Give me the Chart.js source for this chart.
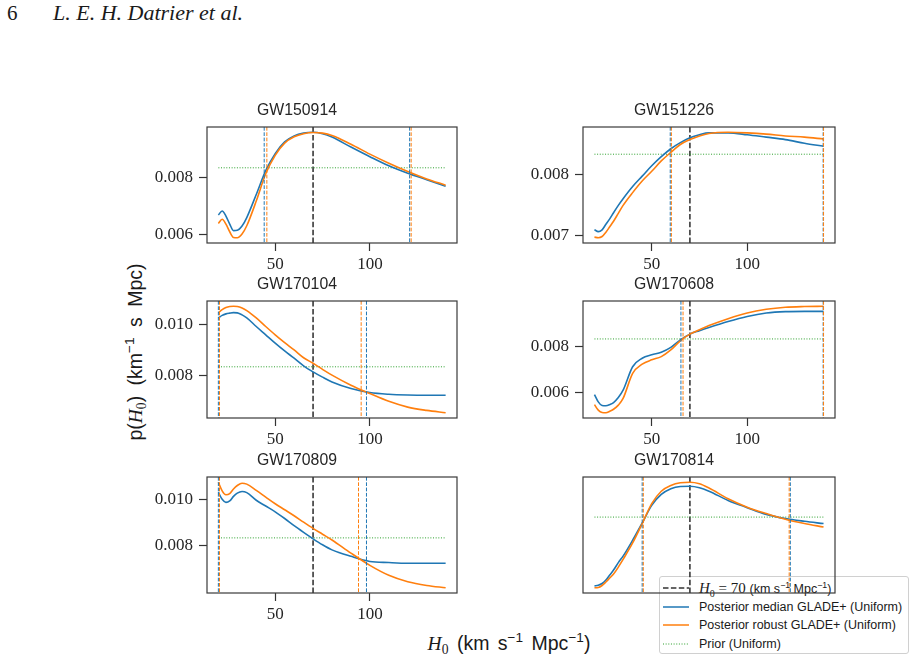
<!DOCTYPE html>
<html>
<head>
<meta charset="utf-8">
<script src="https://cdn.jsdelivr.net/npm/chart.js@4.4.1/dist/chart.umd.min.js"></script>
<style>
  html, body { margin: 0; padding: 0; background: #fff; }
  body { width: 916px; height: 661px; position: relative; overflow: hidden; font-family: "Liberation Sans", sans-serif; color: #1a1a1a; }
  canvas { position: absolute; }
  .txt { position: absolute; white-space: nowrap; }
  .m { font-family: "Liberation Serif", serif; font-style: italic; }
  .r { font-family: "Liberation Serif", serif; }
  sub, sup { font-size: 70%; line-height: 0; }
  #legend { position: absolute; left: 659px; top: 576px; width: 250px; height: 78px; border: 1px solid #d0d0d0; border-radius: 3px; background: rgba(255,255,255,0.85); font-size: 12.5px; box-sizing: border-box; padding-top: 2px; }
  #legend .row { height: 18.5px; display: flex; align-items: center; }
  #legend svg { margin-left: 3px; margin-right: 10px; }
</style>
</head>
<body>
<div class="txt r" style="left:7px;top:1px;font-size:21px;">6</div>
<div class="txt r" style="left:53px;top:0px;font-size:22px;font-style:italic;">L. E. H. Datrier et al.</div>

<div class="txt" style="left:135px;top:352px;font-size:19.5px;word-spacing:5px;transform:translate(-50%,-50%) rotate(-90deg);">p(<span class="m">H</span><sub class="r">0</sub>) (km<sup>−1</sup> s Mpc)</div>
<div class="txt" style="left:509px;top:643px;font-size:19.5px;word-spacing:3px;transform:translate(-50%,-50%);"><span class="m">H</span><sub class="r">0</sub> (km s<sup>−1</sup> Mpc<sup>−1</sup>)</div>

<div id="legend">
  <div class="row"><svg width="26" height="6"><line x1="0" y1="3" x2="26" y2="3" stroke="#333" stroke-width="1.5" stroke-dasharray="5.5 2.4"/></svg><span><span class="m" style="font-size:15px;">H</span><sub class="r" style="font-size:10px;">0</sub><span class="r" style="font-size:15px;"> = 70 </span>(km s<sup>−1</sup> Mpc<sup>−1</sup>)</span></div>
  <div class="row"><svg width="26" height="6"><line x1="0" y1="3" x2="26" y2="3" stroke="#1f77b4" stroke-width="1.5"/></svg><span>Posterior median GLADE+ (Uniform)</span></div>
  <div class="row"><svg width="26" height="6"><line x1="0" y1="3" x2="26" y2="3" stroke="#ff7f0e" stroke-width="1.5"/></svg><span>Posterior robust GLADE+ (Uniform)</span></div>
  <div class="row"><svg width="26" height="6"><line x1="0" y1="3" x2="26" y2="3" stroke="#2ca02c" stroke-width="1" stroke-dasharray="1 1.65"/></svg><span>Prior (Uniform)</span></div>
</div>

<script>
// H0 grid (km/s/Mpc) shared by every posterior curve
const H0 = [20, 22, 24, 26, 28, 30, 32.5, 35, 40, 45, 50, 55, 60, 65, 70, 75, 80, 90, 100, 110, 120, 130, 140];
const TRUE_H0 = 70;
const PRIOR = 0.00833;
const PRIOR_RANGE = [20, 140];
const X_TICKS = [50, 100];

const names = ['GW150914', 'GW151226', 'GW170104', 'GW170608', 'GW170809', 'GW170814'];

const median150914 = [0.00667, 0.00681, 0.00663, 0.00635, 0.00612, 0.00613, 0.00628, 0.00658, 0.00739, 0.00823, 0.00883, 0.00924, 0.00945, 0.00955, 0.00958, 0.00953, 0.00941, 0.00906, 0.00872, 0.0084, 0.00814, 0.00791, 0.00768];
const robust150914 = [0.00637, 0.00652, 0.00635, 0.00608, 0.00588, 0.00587, 0.006, 0.00629, 0.00716, 0.00812, 0.00877, 0.0092, 0.00942, 0.00953, 0.00957, 0.00955, 0.00947, 0.00916, 0.00881, 0.00849, 0.0082, 0.00794, 0.00772];

const median151226 = [0.00709, 0.00706, 0.00709, 0.00718, 0.00727, 0.00737, 0.00749, 0.0076, 0.0078, 0.00797, 0.00814, 0.00829, 0.00842, 0.00852, 0.0086, 0.00865, 0.00868, 0.00868, 0.00865, 0.00861, 0.00857, 0.00851, 0.00846];
const robust151226 = [0.00697, 0.00696, 0.00698, 0.00705, 0.00714, 0.00723, 0.00736, 0.00749, 0.0077, 0.00789, 0.00805, 0.00822, 0.00836, 0.00849, 0.00857, 0.00863, 0.00867, 0.00869, 0.00868, 0.00866, 0.00863, 0.00861, 0.00858];

const median170104 = [0.01027, 0.01037, 0.01043, 0.01046, 0.01048, 0.01047, 0.01039, 0.01027, 0.00993, 0.0096, 0.00927, 0.00896, 0.00867, 0.00837, 0.00813, 0.00792, 0.00773, 0.00747, 0.00731, 0.00724, 0.00721, 0.0072, 0.0072];
const robust170104 = [0.01047, 0.0106, 0.01068, 0.01072, 0.01073, 0.01072, 0.01066, 0.01056, 0.01027, 0.00993, 0.0096, 0.00929, 0.009, 0.00869, 0.00847, 0.00823, 0.008, 0.0076, 0.00727, 0.00696, 0.00673, 0.0066, 0.00651];

const median170608 = [0.00591, 0.00559, 0.00543, 0.00542, 0.00547, 0.00556, 0.00578, 0.0061, 0.00712, 0.00749, 0.00764, 0.00775, 0.00796, 0.00829, 0.00854, 0.00869, 0.00883, 0.00909, 0.00931, 0.00946, 0.00952, 0.00953, 0.00953];
const robust170608 = [0.00547, 0.00523, 0.00513, 0.00512, 0.00518, 0.00527, 0.00545, 0.00574, 0.00683, 0.00723, 0.00742, 0.00756, 0.00785, 0.00825, 0.00854, 0.00873, 0.00891, 0.00921, 0.00946, 0.00962, 0.00971, 0.00974, 0.00975];

const median170809 = [0.01031, 0.01, 0.00987, 0.00993, 0.01013, 0.01027, 0.01034, 0.01029, 0.00996, 0.00971, 0.00946, 0.00917, 0.00886, 0.00857, 0.00829, 0.00803, 0.00781, 0.00753, 0.00731, 0.00726, 0.00723, 0.00723, 0.00723];
const robust170809 = [0.01074, 0.01037, 0.0102, 0.01025, 0.01045, 0.0106, 0.0107, 0.01066, 0.01039, 0.0101, 0.00981, 0.00955, 0.00929, 0.00901, 0.00874, 0.00849, 0.00824, 0.00767, 0.00714, 0.00671, 0.00643, 0.00627, 0.00617];

const median170814 = [0.00556, 0.00559, 0.00566, 0.0058, 0.006, 0.0062, 0.0065, 0.00676, 0.0074, 0.00809, 0.0088, 0.00924, 0.00947, 0.00956, 0.00957, 0.00951, 0.00937, 0.009, 0.00871, 0.00844, 0.00827, 0.00816, 0.00807];
const robust170814 = [0.00549, 0.0055, 0.00558, 0.00572, 0.00588, 0.00604, 0.00632, 0.00663, 0.00729, 0.00807, 0.00887, 0.00937, 0.0096, 0.00971, 0.00973, 0.00967, 0.0095, 0.00907, 0.00873, 0.00847, 0.00824, 0.00807, 0.00793];

// 90% interval bounds drawn as dashed verticals [low, high]
const medianBounds = [[44.2, 121], [59.7, 139.8], [20.0, 98.2], [65.3, 139.8], [20.0, 98.2], [45.0, 122.6]];
const robustBounds = [[45.6, 121.8], [60.3, 140], [20.6, 95.4], [66.4, 140], [20.6, 94.0], [45.6, 122.0]];

const yTicks = [[0.006, 0.008], [0.007, 0.008], [0.008, 0.010], [0.006, 0.008], [0.008, 0.010], []];

const medians = [median150914, median151226, median170104, median170608, median170809, median170814];
const robusts = [robust150914, robust151226, robust170104, robust170608, robust170809, robust170814];

const BLUE = '#1f77b4', ORANGE = '#ff7f0e', GREEN = '#2ca02c', INK = '#262626';
const boxes = [
    { left: 207, top: 127, w: 250, h: 116 }, { left: 583, top: 127, w: 252, h: 116 },
    { left: 207, top: 301, w: 250, h: 117 }, { left: 583, top: 301, w: 252, h: 117 },
    { left: 207, top: 477, w: 250, h: 116 }, { left: 583, top: 477, w: 252, h: 116 },
];
const Y_W = 70, X_H = 32, TITLE_H = 26, PAD_R = 6;

function pts(ys) { return H0.map((x, i) => ({ x, y: ys[i] })); }

function panel(i) {
    const b = boxes[i];
    const cv = document.createElement('canvas');
    cv.width = Y_W + b.w + PAD_R;
    cv.height = TITLE_H + b.h + X_H;
    cv.style.left = (b.left - Y_W) + 'px';
    cv.style.top = (b.top - TITLE_H) + 'px';
    document.body.appendChild(cv);

    const all = medians[i].concat(robusts[i]);
    const lo = Math.min(...all), hi = Math.max(...all), m = (hi - lo) * 0.05;
    const noTicks = yTicks[i].length === 0;

    const frame = {
        id: 'frame',
        beforeDatasetsDraw(chart) {
            const { ctx, chartArea: a, scales: { x } } = chart;
            const px = x.getPixelForValue(TRUE_H0);
            ctx.save();
            ctx.strokeStyle = '#2b2b2b'; ctx.lineWidth = 1.5; ctx.setLineDash([5.5, 2.4]);
            ctx.beginPath(); ctx.moveTo(px, a.top); ctx.lineTo(px, a.bottom); ctx.stroke();
            ctx.restore();
        },
        afterDatasetsDraw(chart) {
            const { ctx, chartArea: a, scales: { x } } = chart;
            ctx.save();
            ctx.beginPath(); ctx.rect(a.left, a.top, a.width, a.height); ctx.clip();
            ctx.lineWidth = 1; ctx.setLineDash([3.7, 1.6]);
            [[medianBounds[i], BLUE], [robustBounds[i], ORANGE]].forEach(([vals, col]) => {
                ctx.strokeStyle = col;
                vals.forEach(v => {
                    const px = x.getPixelForValue(v);
                    ctx.beginPath(); ctx.moveTo(px, a.top); ctx.lineTo(px, a.bottom); ctx.stroke();
                });
            });
            ctx.restore();
            ctx.save();
            ctx.strokeStyle = '#3a3a3a'; ctx.lineWidth = 1.2;
            ctx.strokeRect(a.left, a.top, a.width, a.height);
            ctx.restore();
        }
    };

    new Chart(cv.getContext('2d'), {
        type: 'line',
        data: {
            datasets: [
                { data: pts(robusts[i]), borderColor: ORANGE, borderWidth: 1.6, order: 0 },
                { data: pts(medians[i]), borderColor: BLUE, borderWidth: 1.6, order: 1 },
                { data: PRIOR_RANGE.map(x => ({ x, y: PRIOR })), borderColor: GREEN, borderWidth: 1, borderDash: [1, 1.65], order: 2 },
            ]
        },
        options: {
            responsive: false,
            animation: false,
            events: [],
            elements: { point: { radius: 0 }, line: { cubicInterpolationMode: 'monotone' } },
            layout: { padding: { top: 0, right: PAD_R, bottom: 0, left: 0 } },
            plugins: {
                legend: { display: false },
                tooltip: { enabled: false },
                title: { display: true, text: names[i], color: INK, font: { family: 'Liberation Sans', size: 15.8, weight: 'normal', lineHeight: '19px' }, padding: { top: 0, bottom: 7 } },
            },
            scales: {
                x: {
                    type: 'linear', min: 14, max: 146,
                    afterFit: s => { s.height = X_H; },
                    afterBuildTicks: s => { s.ticks = noTicks ? [] : X_TICKS.map(v => ({ value: v })); },
                    ticks: { display: !noTicks, color: INK, padding: 3, font: { family: 'Liberation Serif', size: 17 }, maxRotation: 0 },
                    grid: { display: !noTicks, drawOnChartArea: false, tickLength: 8, tickColor: '#333', tickWidth: 1.2 },
                    border: { display: false },
                },
                y: {
                    min: lo - m, max: hi + m,
                    afterFit: s => { s.width = Y_W; },
                    afterBuildTicks: s => { s.ticks = yTicks[i].map(v => ({ value: v })); },
                    ticks: { display: !noTicks, color: INK, padding: 6, font: { family: 'Liberation Serif', size: 17 }, callback: v => v.toFixed(3) },
                    grid: { display: !noTicks, drawOnChartArea: false, tickLength: 8, tickColor: '#333', tickWidth: 1.2 },
                    border: { display: false },
                }
            }
        },
        plugins: [frame]
    });
}

names.forEach((n, i) => panel(i));
</script>
</body>
</html>
